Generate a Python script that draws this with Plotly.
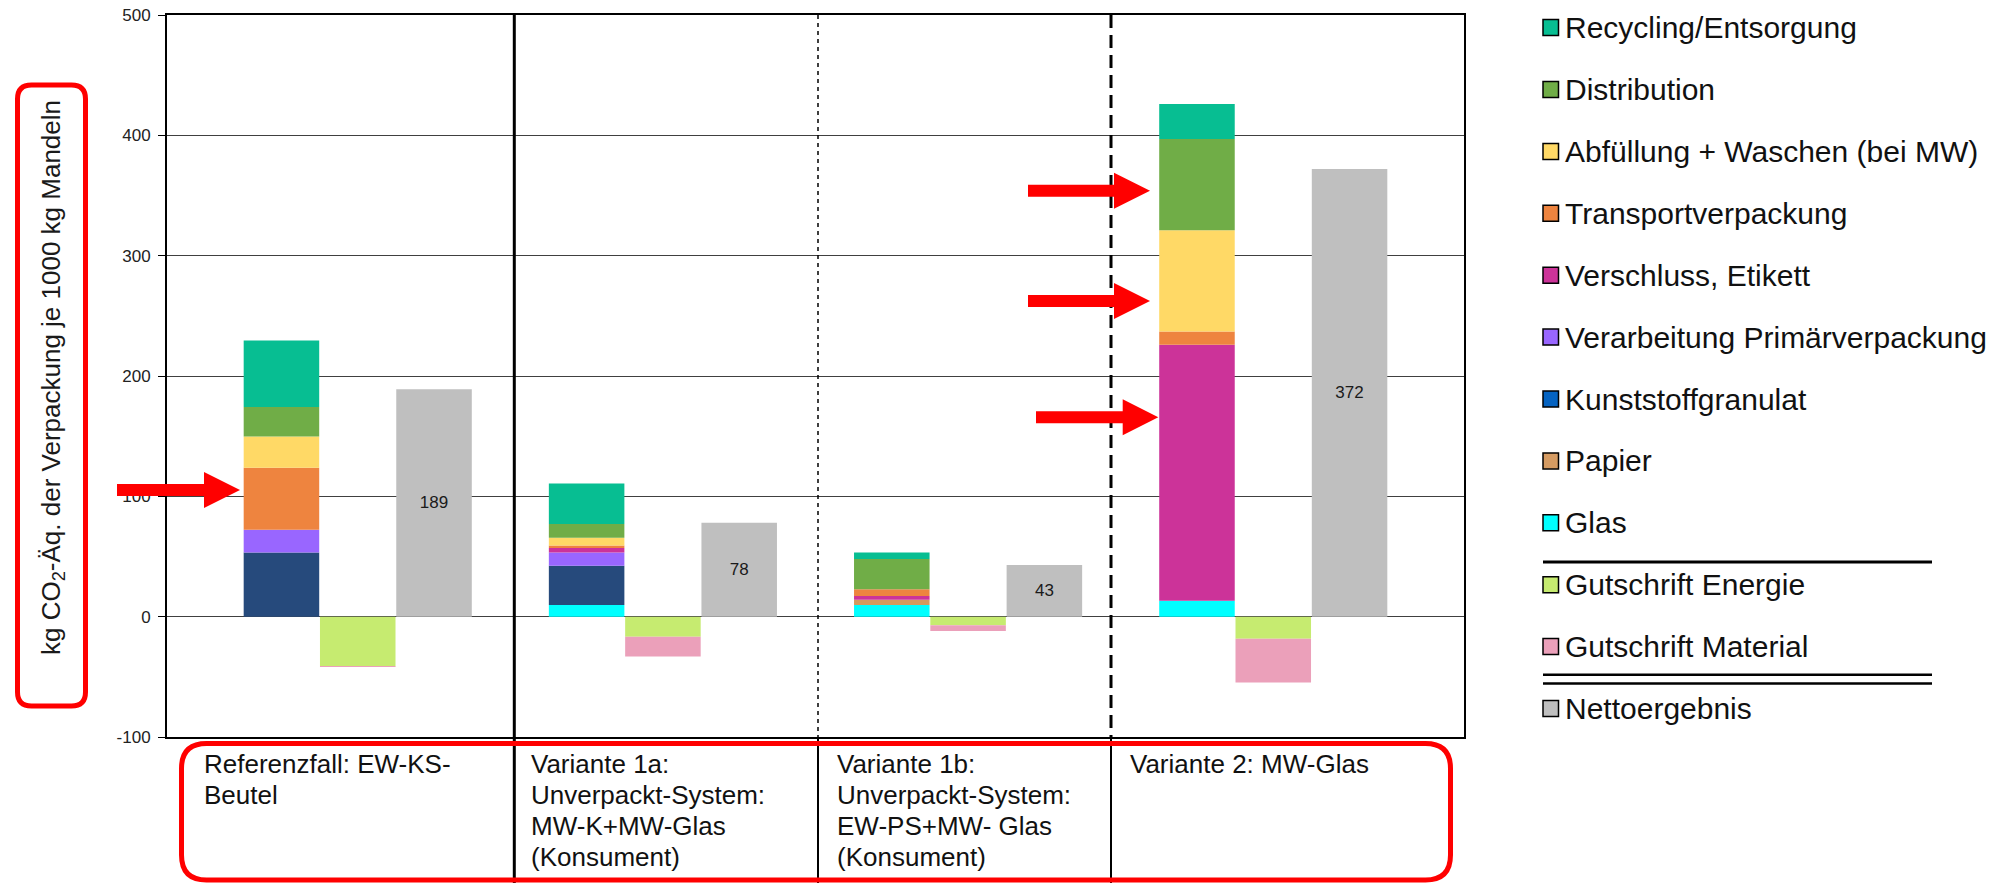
import plotly.graph_objects as go

# ---------------- data ----------------
categories = [
    "Referenzfall: EW-KS-\nBeutel",
    "Variante 1a:\nUnverpackt-System:\nMW-K+MW-Glas\n(Konsument)",
    "Variante 1b:\nUnverpackt-System:\nEW-PS+MW- Glas\n(Konsument)",
    "Variante 2: MW-Glas",
]

glas = [0, 9.7, 9.7, 13.3]
papier = [0, 0, 4.4, 0]
kunststoffgranulat = [53.4, 32.7, 0, 0]
verarbeitung = [18.9, 11.0, 0, 0]
verschluss = [0, 3.6, 3.1, 212.6]
transportverpackung = [51.5, 2.2, 5.5, 11.1]
abfuellung = [26.0, 6.4, 0, 84.2]
distribution = [24.4, 11.4, 25.2, 75.8]
recycling = [55.3, 33.7, 5.5, 29.1]
gutschrift_energie = [-41.3, -16.6, -7.2, -18.3]
gutschrift_material = [-0.5, -16.6, -4.7, -36.5]
nettoergebnis = [189, 78, 43, 372]

y_ticks = [-100, 0, 100, 200, 300, 400, 500]
y_tick_labels = ["-100", "0", "100", "200", "300", "400", "500"]

# stacked burden components (bottom -> top)
burden = [
    ("Glas", glas, "#00FFFF"),
    ("Papier", papier, "#D49A5E"),
    ("Kunststoffgranulat", kunststoffgranulat, "#264A7C"),
    ("Verarbeitung Primärverpackung", verarbeitung, "#9966FF"),
    ("Verschluss, Etikett", verschluss, "#CC3399"),
    ("Transportverpackung", transportverpackung, "#EE843F"),
    ("Abfüllung + Waschen (bei MW)", abfuellung, "#FFD966"),
    ("Distribution", distribution, "#70AD47"),
    ("Recycling/Entsorgung", recycling, "#07BE92"),
]
credits = [
    ("Gutschrift Energie", gutschrift_energie, "#C6EB70"),
    ("Gutschrift Material", gutschrift_material, "#EBA0BA"),
]
net_name, net_color = "Nettoergebnis", "#BFBFBF"

# legend swatch colours (as in the picture's legend)
legend_colors = {
    "Recycling/Entsorgung": "#07BE92",
    "Distribution": "#70AD47",
    "Abfüllung + Waschen (bei MW)": "#FFD966",
    "Transportverpackung": "#EE843F",
    "Verschluss, Etikett": "#CC3399",
    "Verarbeitung Primärverpackung": "#9966FF",
    "Kunststoffgranulat": "#0563C1",
    "Papier": "#D59B62",
    "Glas": "#00FFFF",
    "Gutschrift Energie": "#C6EB70",
    "Gutschrift Material": "#EBA0BA",
    "Nettoergebnis": "#BFBFBF",
}

# ---------------- geometry ----------------
FIG_W, FIG_H = 2003, 883
L, R, T, B = 167, 1464, 15, 737
FONT = "Liberation Sans, Arial, sans-serif"


def X(p):
    return (p - L) / (R - L)


def Y(p):
    return (B - p) / (B - T)


n = len(categories)
stack_x = [4 * i + 1 for i in range(n)]
credit_x = [4 * i + 2 for i in range(n)]
net_x = [4 * i + 3 for i in range(n)]

fig = go.Figure()
for name, vals, col in burden:
    fig.add_trace(go.Bar(x=stack_x, y=vals, name=name, width=0.99,
                         marker=dict(color=col, line=dict(width=0)),
                         showlegend=False))
for name, vals, col in credits:
    fig.add_trace(go.Bar(x=credit_x, y=vals, name=name, width=0.99,
                         marker=dict(color=col, line=dict(width=0)),
                         showlegend=False))
fig.add_trace(go.Bar(x=net_x, y=nettoergebnis, name=net_name, width=0.99,
                     marker=dict(color=net_color, line=dict(width=0)),
                     text=[str(v) for v in nettoergebnis],
                     textposition="inside", insidetextanchor="middle",
                     textangle=0, constraintext="none",
                     textfont=dict(size=17, color="#1a1a1a", family=FONT),
                     showlegend=False))

shapes = []
annotations = []

# separators between cases (plot + table below)
sep = [(514.3, "solid", 3, 3), (818, "4px,4px", 1.5, 2), (1111, "13px,7px", 3, 2)]
for xp, dash, w_plot, w_tab in sep:
    shapes.append(dict(type="line", xref="paper", yref="paper", x0=X(xp), x1=X(xp),
                       y0=1, y1=0, line=dict(color="black", width=w_plot, dash=dash)))
    shapes.append(dict(type="line", xref="paper", yref="paper", x0=X(xp), x1=X(xp),
                       y0=0, y1=Y(FIG_H + 2), line=dict(color="black", width=w_tab)))


def rounded_rect(x0, y0, x1, y1, r):
    pts = [
        f"M {X(x0 + r)},{Y(y0)}", f"L {X(x1 - r)},{Y(y0)}",
        f"Q {X(x1)},{Y(y0)} {X(x1)},{Y(y0 + r)}", f"L {X(x1)},{Y(y1 - r)}",
        f"Q {X(x1)},{Y(y1)} {X(x1 - r)},{Y(y1)}", f"L {X(x0 + r)},{Y(y1)}",
        f"Q {X(x0)},{Y(y1)} {X(x0)},{Y(y1 - r)}", f"L {X(x0)},{Y(y0 + r)}",
        f"Q {X(x0)},{Y(y0)} {X(x0 + r)},{Y(y0)}", "Z",
    ]
    return " ".join(pts)


# red rounded frames
shapes.append(dict(type="path", xref="paper", yref="paper",
                   path=rounded_rect(17.5, 85, 85.5, 706, 14),
                   line=dict(color="#FF0000", width=5)))
shapes.append(dict(type="path", xref="paper", yref="paper",
                   path=rounded_rect(181.5, 743.5, 1450.5, 880, 25),
                   line=dict(color="#FF0000", width=5)))


def arrow(x_tail, x_head, x_tip, yc, hs=6, hh=18):
    p = [(x_tail, yc - hs), (x_head, yc - hs), (x_head, yc - hh), (x_tip, yc),
         (x_head, yc + hh), (x_head, yc + hs), (x_tail, yc + hs)]
    return "M " + " L ".join(f"{X(a)},{Y(b)}" for a, b in p) + " Z"


for xt, xh, xtip, yc in [(117, 204, 240, 490), (1028, 1114, 1150, 190.7),
                         (1028, 1114, 1150, 301), (1036, 1122.7, 1158.3, 417.3)]:
    shapes.append(dict(type="path", xref="paper", yref="paper",
                       path=arrow(xt, xh, xtip, yc),
                       fillcolor="#FF0000", line=dict(width=0)))

# y-axis title
annotations.append(dict(xref="paper", yref="paper", x=X(52), y=Y(378),
                        text="kg CO<sub>2</sub>-Äq. der Verpackung je 1000 kg Mandeln",
                        textangle=-90, showarrow=False, xanchor="center", yanchor="middle",
                        font=dict(size=26, color="#1a1a1a", family=FONT)))

# category table labels
cell_left = [204, 531, 837, 1130]
for i, cat in enumerate(categories):
    for j, line in enumerate(cat.split("\n")):
        baseline = 773 + 31 * j
        annotations.append(dict(xref="paper", yref="paper", x=X(cell_left[i] - 2),
                                y=Y(baseline - 9), text=line, showarrow=False,
                                xanchor="left", yanchor="middle",
                                font=dict(size=26, color="#111111", family=FONT)))

# legend (drawn manually, matching the original layout)
legend_order = [name for name, _, _ in reversed(burden)] + [c[0] for c in credits] + [net_name]
for i, name in enumerate(legend_order):
    yc = 27.6 + 61.9 * i
    shapes.append(dict(type="rect", xref="paper", yref="paper",
                       x0=X(1543), x1=X(1558.5), y0=Y(yc - 8), y1=Y(yc + 8),
                       fillcolor=legend_colors[name], line=dict(color="black", width=1.5)))
    annotations.append(dict(xref="paper", yref="paper", x=X(1563), y=Y(yc),
                            text=name, showarrow=False, xanchor="left", yanchor="middle",
                            font=dict(size=30, color="#111111", family=FONT)))
for yl, w in [(562, 3), (674.7, 2.5), (683.5, 2.5)]:
    shapes.append(dict(type="line", xref="paper", yref="paper", x0=X(1543), x1=X(1932),
                       y0=Y(yl), y1=Y(yl), line=dict(color="black", width=w)))

fig.update_layout(
    width=FIG_W, height=FIG_H,
    margin=dict(l=L, r=FIG_W - R, t=T, b=FIG_H - B, autoexpand=False),
    paper_bgcolor="white", plot_bgcolor="white",
    barmode="relative",
    font=dict(family=FONT, color="#1a1a1a"),
    shapes=shapes, annotations=annotations,
    showlegend=False,
)
fig.update_xaxes(range=[-0.5, 4 * n + 0.5], showticklabels=False, showgrid=False,
                 zeroline=False, showline=True, mirror=True, linewidth=2,
                 linecolor="black", ticks="")
fig.update_yaxes(range=[y_ticks[0], y_ticks[-1]], tickvals=y_ticks, ticktext=y_tick_labels,
                 showgrid=True, gridcolor="#404040", gridwidth=1,
                 zeroline=True, zerolinecolor="#404040", zerolinewidth=1,
                 showline=True, mirror=True, linewidth=2, linecolor="black",
                 ticks="outside", ticklen=7, tickcolor="black", tickwidth=1,
                 ticklabelstandoff=4,
                 tickfont=dict(size=17, color="#222222", family=FONT))

fig.write_html("out.html")
